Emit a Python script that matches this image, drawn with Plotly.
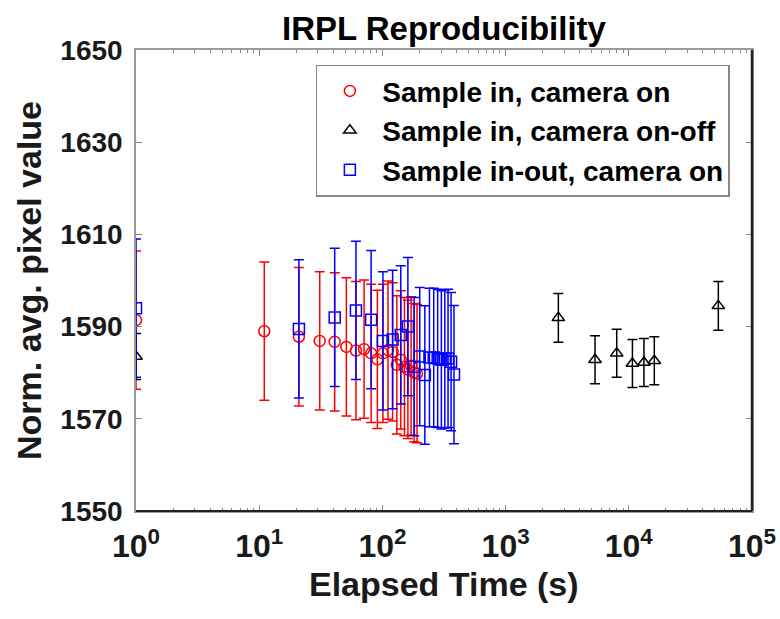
import plotly.graph_objects as go

# Series 1: Sample in, camera on (red circles)
red_t = [1, 11, 21, 31, 41, 51, 61, 71, 81, 91, 101, 111, 121, 131, 141, 151, 161, 171, 181, 191]
red_v = [1591.4, 1589.0, 1587.8, 1586.9, 1586.7, 1585.6, 1584.8, 1585.1, 1584.2, 1582.9,
         1584.2, 1584.9, 1584.5, 1581.7, 1582.8, 1581.3, 1580.7, 1581.5, 1580.0, 1579.8]
red_e = [15.0] * 20

# Series 2: Sample in, camera on-off (black triangles)
blk_t = [1, 2680, 5320, 7980, 10700, 13270, 16110, 53300]
blk_v = [1583.5, 1591.9, 1582.8, 1584.2, 1582.0, 1582.2, 1582.6, 1594.5]
blk_e = [5.0, 5.3, 5.2, 5.2, 5.2, 5.2, 5.2, 5.3]

# Series 3: Sample in-out, camera on (blue squares)
blu_t = [1, 21, 41, 61, 81, 101, 121, 141, 161, 181, 201, 221, 241, 261, 281, 301, 321, 341, 361, 381]
blu_v = [1594.0, 1589.5, 1592.0, 1593.5, 1591.5, 1586.9, 1587.2, 1588.2, 1590.0, 1581.3,
         1583.5, 1579.5, 1583.3, 1583.3, 1583.1, 1582.8, 1583.0, 1583.1, 1582.4, 1579.6]
blu_e = [15.0] * 20

x_ticks = [1, 10, 100, 1000, 10000, 100000]
x_ticktext = ["10<sup>0</sup>", "10<sup>1</sup>", "10<sup>2</sup>", "10<sup>3</sup>", "10<sup>4</sup>", "10<sup>5</sup>"]
x_minor = [m * 10 ** d for d in range(5) for m in range(2, 10)]
y_ticks = [1550, 1570, 1590, 1610, 1630, 1650]

FONT = "Liberation Sans, Arial, sans-serif"

fig = go.Figure()

def add(name, t, v, e, color, symbol):
    fig.add_trace(go.Scatter(
        x=t, y=v, name=name, mode="markers",
        marker=dict(symbol=symbol, size=11, color=color,
                    line=dict(color=color, width=1.5)),
        error_y=dict(type="data", array=e, visible=True, color=color,
                     thickness=1.5, width=5),
    ))

add("Sample in, camera on", red_t, red_v, red_e, "#ff0000", "circle-open")
add("Sample in, camera on-off", blk_t, blk_v, blk_e, "#000000", "triangle-up-open")
add("Sample in-out, camera on", blu_t, blu_v, blu_e, "#0000ff", "square-open")

axis_common = dict(
    showline=True, linecolor="#9a9a9a", linewidth=1.5, mirror="ticks",
    ticks="inside", ticklen=6, tickcolor="#888888", showgrid=False, zeroline=False,
    automargin=False,
)

fig.update_layout(
    width=780, height=619,
    margin=dict(l=136, r=28, t=50, b=108),
    paper_bgcolor="white", plot_bgcolor="white",
    title=dict(text="IRPL Reproducibility", x=0.5, xref="paper", xanchor="center",
               y=1 - 28 / 619, yref="container", yanchor="middle",
               font=dict(family=FONT, size=33, color="#000000", weight="bold")),
    xaxis=dict(type="log", range=[0, 5], tickvals=x_ticks, ticktext=x_ticktext,
               ticklabelstandoff=6,
               tickfont=dict(family=FONT, size=32, color="#1a1a1a", weight="bold"),
               minor=dict(tickvals=x_minor, ticks="inside", ticklen=3, tickcolor="#888888"),
               **axis_common),
    yaxis=dict(range=[1550, 1650], tickvals=y_ticks, ticklabelstandoff=6,
               tickfont=dict(family=FONT, size=28, color="#1a1a1a", weight="bold"),
               title=dict(text="Norm. avg. pixel value", standoff=8,
                          font=dict(family=FONT, size=34, color="#1a1a1a", weight="bold")),
               **axis_common),
    legend=dict(x=0.292, y=0.968, xanchor="left", yanchor="top",
                bgcolor="white", bordercolor="#888888", borderwidth=1.5,
                font=dict(family=FONT, size=28, color="#000000", weight="bold"),
                itemwidth=55, tracegroupgap=0),
    showlegend=True,
    annotations=[dict(text="Elapsed Time (s)", xref="paper", yref="paper",
                      x=0.5, y=(511 - 584) / 461, xanchor="center", yanchor="middle",
                      showarrow=False,
                      font=dict(family=FONT, size=34, color="#1a1a1a", weight="bold"))],
    shapes=[
        dict(type="line", xref="paper", yref="paper", x0=0, y0=0, x1=1, y1=0,
             line=dict(color="#222222", width=2)),
        dict(type="line", xref="paper", yref="paper", x0=1, y0=0, x1=1, y1=1,
             line=dict(color="#222222", width=2.5)),
    ],
)

fig.write_html("out.html")
